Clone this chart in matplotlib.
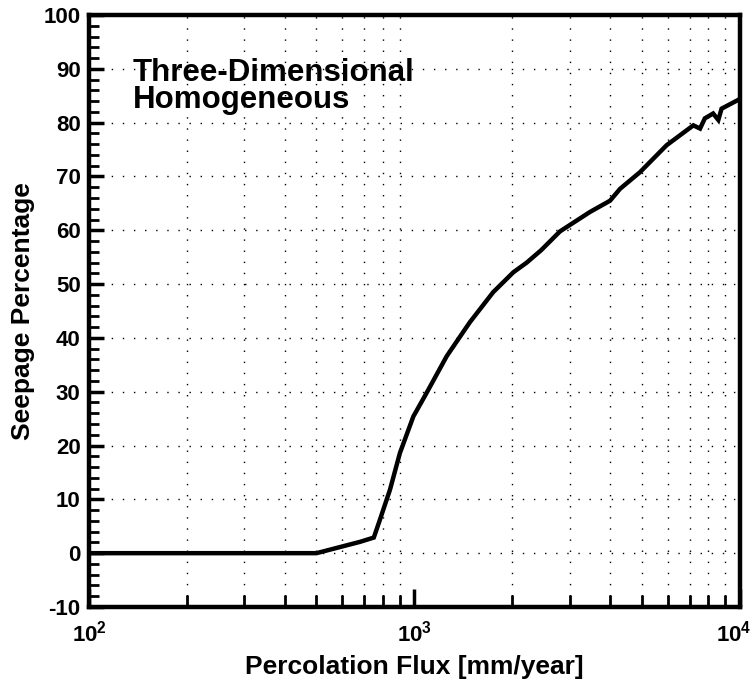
import numpy as np
import matplotlib
matplotlib.use("Agg")
from matplotlib import pyplot as plt
from matplotlib.ticker import FixedLocator, MultipleLocator, FuncFormatter
from matplotlib.transforms import ScaledTranslation

plt.rcParams['font.family'] = ['Liberation Sans', 'DejaVu Sans']
plt.rcParams['font.weight'] = 'bold'
plt.rcParams['mathtext.fontset'] = 'custom'
plt.rcParams['mathtext.rm'] = 'Liberation Sans:bold'
plt.rcParams['mathtext.bf'] = 'Liberation Sans:bold'
plt.rcParams['axes.unicode_minus'] = False

# percolation flux [mm/year] vs seepage percentage
flux = [100, 200, 300, 400, 500, 680, 750, 783, 841, 902, 992, 1090, 1256, 1479,
        1745, 2013, 2213, 2450, 2800, 3460, 3990, 4280, 4930, 5950, 7190, 7540,
        7800, 8270, 8580, 8780, 10000]
seepage = [0, 0, 0, 0, 0, 2.1, 2.9, 6.2, 11.8, 18.6, 25.4, 29.8, 36.6, 42.9,
           48.5, 52.2, 54.0, 56.3, 59.8, 63.4, 65.5, 67.7, 70.8, 75.8, 79.5, 78.9,
           80.8, 81.7, 80.5, 82.6, 84.4]

x_major = [100, 1000, 10000]
x_minor = [200, 300, 400, 500, 600, 700, 800, 900,
           2000, 3000, 4000, 5000, 6000, 7000, 8000, 9000]
y_grid = [0, 10, 20, 30, 40, 50, 60, 70, 80, 90]


def fmt_pow(v, pos):
    e = int(round(np.log10(v)))
    return r'$\mathbf{10^{%d}}$' % e


fig = plt.figure(figsize=(7.56, 6.83), dpi=100)
ax = fig.add_axes([0.1177, 0.1113, 0.8611, 0.8667])

ax.plot(flux, seepage, color='black', linewidth=3.2, solid_joinstyle='miter')

ax.set_xscale('log')
ax.set_xlim(100, 10000)
ax.set_ylim(-10, 100)

ax.xaxis.set_major_locator(FixedLocator(x_major))
ax.xaxis.set_minor_locator(FixedLocator(x_minor))
ax.xaxis.set_major_formatter(FuncFormatter(fmt_pow))
ax.xaxis.set_minor_formatter(FuncFormatter(lambda v, p: ''))
ax.yaxis.set_major_locator(MultipleLocator(10))
ax.yaxis.set_minor_locator(MultipleLocator(2))

# sparse dotted grid like the scanned original
for xv in x_minor:
    ax.axvline(xv, color='black', linewidth=1.0, linestyle=(0, (1, 7)), zorder=0)
for yv in y_grid:
    ax.axhline(yv, color='black', linewidth=1.0, linestyle=(0, (1, 7)), zorder=0)

ax.tick_params(axis='y', which='major', direction='in', length=11, width=2.5,
               labelsize=16, pad=6, right=False)
ax.tick_params(axis='y', which='minor', direction='in', length=7, width=2, right=False)
ax.tick_params(axis='x', which='major', direction='in', length=13, width=2.5,
               labelsize=16, pad=10, top=False)
ax.tick_params(axis='x', which='minor', direction='in', length=9, width=2, top=False)

for sp in ax.spines.values():
    sp.set_linewidth(3.2)

ax.set_xlabel('Percolation Flux [mm/year]', fontsize=19, fontweight='bold', labelpad=6)
ax.set_ylabel('Seepage Percentage', fontsize=19, fontweight='bold', labelpad=6)

ax.text(0.067, 0.928, 'Three-Dimensional\nHomogeneous', transform=ax.transAxes,
        fontsize=22.5, fontweight='bold', va='top', ha='left', linespacing=0.9)

fig.canvas.draw()
last = ax.get_xticklabels()[-1]
last.set_transform(last.get_transform() + ScaledTranslation(-6 / 100, 0, fig.dpi_scale_trans))

fig.savefig('out.png', dpi=100)
